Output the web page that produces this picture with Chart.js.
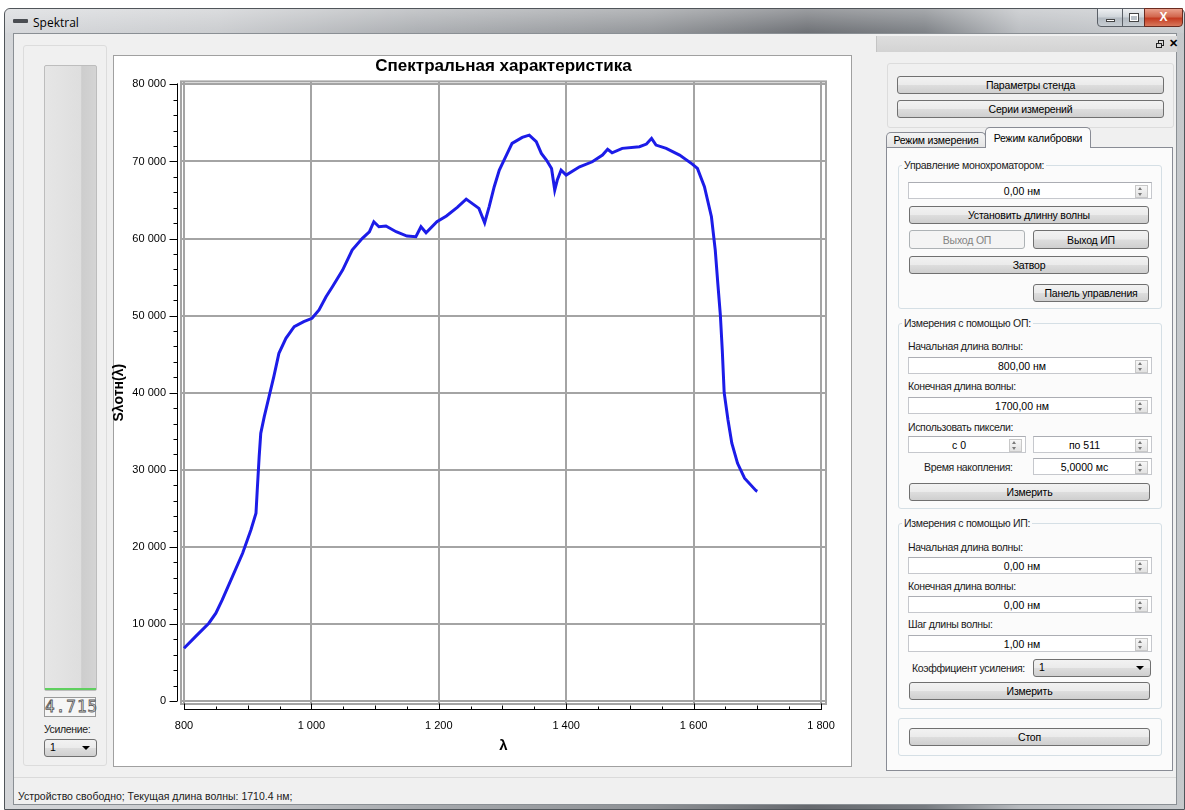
<!DOCTYPE html>
<html>
<head>
<meta charset="utf-8">
<title>Spektral</title>
<script src="https://cdn.jsdelivr.net/npm/chart.js@4.4.1/dist/chart.umd.min.js"></script>
<style>
  html, body { margin: 0; padding: 0; width: 1185px; height: 810px; overflow: hidden; background: #fff;
    font-family: "Liberation Sans", Arial, sans-serif; font-size: 10.5px; color: #000; }
  .a { position: absolute; box-sizing: border-box; }
  .win { left: 4px; top: 8px; width: 1181px; height: 802px; border: 1px solid #50555a; border-radius: 6px 6px 0 0;
    background: linear-gradient(to right, #d4d6d9 0%, #c8cacd 18%, #a7aaae 35%, #8d9094 55%, #66696e 68%, #777b80 78%, #b7babe 86%, #c6c9cc 100%); }
  .winshade { left: 5px; top: 9px; width: 1179px; height: 24px; border-radius: 5px 5px 0 0;
    background: linear-gradient(rgba(255,255,255,0.35), rgba(255,255,255,0.05)); }
  .client { left: 13px; top: 33px; width: 1164px; height: 772px; background: #f0f0f0; border: 1px solid #8a8f94; }
  .ttl { left: 33px; top: 14px; font-family: "Open Sans", "Noto Sans", sans-serif; font-size: 12px; color: #000; }
  .ico { left: 13px; top: 19px; width: 15px; height: 4px; background: #4a4d52; border-radius: 1px; }
  .wb { top: 8px; height: 19px; border: 1px solid #5a5f66; background: linear-gradient(#eef0f2, #cfd4d9 48%, #b3bac1 52%, #c7cdd2); }
  .close { background: linear-gradient(#eaa08c, #d2684f 45%, #c43b21 55%, #d8785c); color: #fff; font-weight: bold;
    font-size: 12px; text-align: center; line-height: 17px; border-radius: 0 0 4px 0; }
  .grp { border: 1px solid #d5dfe5; border-radius: 3px; }
  .gt { position: absolute; left: 3px; top: -8px; padding: 0 2px; line-height: 14px; background: #fbfbfb; color: #222; letter-spacing: -0.3px; white-space: nowrap; }
  .btn { border: 1px solid #707070; border-radius: 3px; display: flex; align-items: center; justify-content: center;
    background: linear-gradient(#f2f2f2, #ebebeb 48%, #dddddd 52%, #cfcfcf); color: #000; letter-spacing: -0.2px; }
  .dis { border-color: #adb2b5; background: #f4f4f4; color: #838383; }
  .spin { border: 1px solid #c6c8cd; border-top-color: #abadb3; background: #fff; display: flex; align-items: center;
    justify-content: center; padding-right: 16px; }
  .ud { position: absolute; right: 3px; top: 2px; width: 11px; height: 11px; border: 1px solid #c8c8c8; background: linear-gradient(#f7f7f7, #e2e2e2); }
  .ud::before, .ud::after { content: ""; position: absolute; left: 2px; border-left: 2.5px solid transparent; border-right: 2.5px solid transparent; }
  .ud::before { top: 1px; border-bottom: 3px solid #7a7a7a; }
  .ud::after { bottom: 1px; border-top: 3px solid #7a7a7a; }
  .lbl { line-height: 13px; white-space: nowrap; color: #1a1a1a; letter-spacing: -0.35px; }
  .combo { border: 1px solid #707070; border-radius: 3px; background: linear-gradient(#f2f2f2, #ebebeb 48%, #dddddd 52%, #cfcfcf);
    padding-left: 5px; line-height: 15px; }
  .combo::after { content: ""; position: absolute; right: 6px; top: 6px; border-left: 4px solid transparent; border-right: 4px solid transparent; border-top: 4px solid #000; }
  .tab { border: 1px solid #898c95; border-bottom: none; border-radius: 5px 5px 0 0; text-align: center; line-height: 15px; letter-spacing: -0.2px; }
</style>
</head>
<body>

<!-- window chrome -->
<div class="a win"></div>
<div class="a winshade"></div>
<div class="a ico"></div>
<div class="a ttl">Spektral</div>
<div class="a wb" style="left:1097px;width:26px;border-radius:0 0 0 4px;"><div class="a" style="left:8px;top:10px;width:9px;height:3px;background:#fff;border:1px solid #444;"></div></div>
<div class="a wb" style="left:1122px;width:23px;"><div class="a" style="left:6px;top:4px;width:10px;height:9px;background:#fff;border:1px solid #444;"><div class="a" style="left:1px;top:2px;width:6px;height:4px;background:#b9c0c7;"></div></div></div>
<div class="a wb close" style="left:1144px;width:39px;border-color:#6b2b20;">X</div>

<div class="a client"></div>

<!-- left panel -->
<div class="a grp" style="left:23px;top:45px;width:84px;height:721px;border-color:#dcdcdc;"></div>
<div class="a" style="left:44px;top:65px;width:53px;height:626px;border:1px solid #bdbdbd;border-radius:2px;background:linear-gradient(to right,#e6e6e6,#dedede 70%,#cdcdcd 72%,#d4d4d4);"></div>
<div class="a" style="left:45px;top:688px;width:51px;height:2px;background:#5fcf5f;"></div>
<div class="a" style="left:44px;top:697px;width:52px;height:20px;border:1px solid #9a9a9a;background:#f6f6f6;font-family:'DejaVu Sans Mono',monospace;font-size:16px;line-height:18px;text-align:center;color:transparent;-webkit-text-stroke:0.8px #555;letter-spacing:1px;">4.715</div>
<div class="a lbl" style="left:44px;top:723px;">Усиление:</div>
<div class="a combo" style="left:44px;top:739px;width:53px;height:18px;">1</div>

<!-- chart panel -->
<div class="a" style="left:113px;top:55px;width:739px;height:712px;background:#fff;border:1px solid #a0a0a0;"></div>
<canvas id="spectrum" class="a" width="760" height="720" style="left:100px;top:50px;width:760px;height:720px;"></canvas>

<!-- right dock -->
<div class="a" style="left:876px;top:36px;width:301px;height:16px;background:linear-gradient(#dedede,#d3d3d3);border-left:1px solid #c4c4c4;"></div>
<div class="a" style="left:1158px;top:40px;width:6px;height:6px;border:1px solid #222;"></div>
<div class="a" style="left:1156px;top:43px;width:6px;height:5px;border:1px solid #222;background:#d8d8d8;"></div>
<div class="a" style="left:1169px;top:37px;font-size:11px;font-weight:bold;">✕</div>

<div class="a grp" style="left:887px;top:63px;width:287px;height:65px;border-color:#dcdcdc;"></div>
<div class="a btn" style="left:897px;top:76px;width:267px;height:18px;">Параметры стенда</div>
<div class="a btn" style="left:897px;top:100px;width:267px;height:18px;">Серии измерений</div>

<div class="a tab" style="left:886px;top:132px;width:100px;height:16px;background:linear-gradient(#f4f4f4,#e4e4e4);">Режим измерения</div>
<div class="a" style="left:886px;top:147px;width:287px;height:624px;border:1px solid #898c95;background:#fbfbfb;"></div>
<div class="a tab" style="left:985px;top:127px;width:106px;height:21px;background:#fbfbfb;line-height:20px;">Режим калибровки</div>

<div class="a grp" style="left:898px;top:165px;width:264px;height:144px;"><div class="gt">Управление монохроматором:</div></div>
<div class="a spin" style="left:908px;top:182px;width:244px;height:17px;">0,00 нм<div class="ud"></div></div>
<div class="a btn" style="left:909px;top:206px;width:240px;height:18px;">Установить длинну волны</div>
<div class="a btn dis" style="left:909px;top:230px;width:116px;height:19px;">Выход ОП</div>
<div class="a btn" style="left:1033px;top:230px;width:116px;height:19px;">Выход ИП</div>
<div class="a btn" style="left:909px;top:256px;width:240px;height:18px;">Затвор</div>
<div class="a btn" style="left:1033px;top:284px;width:116px;height:18px;">Панель управления</div>

<div class="a grp" style="left:898px;top:323px;width:264px;height:186px;"><div class="gt">Измерения с помощью ОП:</div></div>
<div class="a lbl" style="left:908px;top:340px;">Начальная длина волны:</div>
<div class="a spin" style="left:908px;top:357px;width:244px;height:17px;">800,00 нм<div class="ud"></div></div>
<div class="a lbl" style="left:908px;top:380px;">Конечная длина волны:</div>
<div class="a spin" style="left:908px;top:397px;width:244px;height:17px;">1700,00 нм<div class="ud"></div></div>
<div class="a lbl" style="left:908px;top:421px;">Использовать пиксели:</div>
<div class="a spin" style="left:908px;top:436px;width:118px;height:17px;">с 0<div class="ud"></div></div>
<div class="a spin" style="left:1033px;top:436px;width:119px;height:17px;">по 511<div class="ud"></div></div>
<div class="a lbl" style="left:924px;top:461px;">Время накопления:</div>
<div class="a spin" style="left:1033px;top:458px;width:119px;height:17px;">5,0000 мс<div class="ud"></div></div>
<div class="a btn" style="left:909px;top:483px;width:241px;height:18px;">Измерить</div>

<div class="a grp" style="left:898px;top:523px;width:264px;height:186px;"><div class="gt">Измерения с помощью ИП:</div></div>
<div class="a lbl" style="left:908px;top:541px;">Начальная длина волны:</div>
<div class="a spin" style="left:908px;top:557px;width:244px;height:17px;">0,00 нм<div class="ud"></div></div>
<div class="a lbl" style="left:908px;top:580px;">Конечная длина волны:</div>
<div class="a spin" style="left:908px;top:596px;width:244px;height:17px;">0,00 нм<div class="ud"></div></div>
<div class="a lbl" style="left:908px;top:618px;">Шаг длины волны:</div>
<div class="a spin" style="left:908px;top:635px;width:244px;height:17px;">1,00 нм<div class="ud"></div></div>
<div class="a lbl" style="left:912px;top:662px;">Коэффициент усиления:</div>
<div class="a combo" style="left:1033px;top:659px;width:118px;height:18px;">1</div>
<div class="a btn" style="left:909px;top:682px;width:241px;height:18px;">Измерить</div>

<div class="a grp" style="left:898px;top:718px;width:264px;height:38px;"></div>
<div class="a btn" style="left:909px;top:728px;width:241px;height:18px;">Стоп</div>

<!-- status bar -->
<div class="a" style="left:14px;top:777px;width:1162px;height:1px;background:#dadada;"></div>
<div class="a" style="left:18px;top:790px;line-height:13px;white-space:nowrap;color:#1a1a1a;">Устройство свободно; Текущая длина волны: 1710.4 нм;</div>

<script>
// spectral response
const wavelengths = [
  800, 818, 839, 850, 860, 876, 892, 905, 913, 915, 918, 920.5, 926, 933.5, 941, 949, 960, 973, 988,
  1001, 1012, 1023, 1033, 1049, 1064, 1080, 1091, 1098, 1106, 1117, 1133, 1150, 1164, 1172, 1180, 1197,
  1212, 1229, 1243, 1256, 1263, 1272, 1279, 1287, 1295, 1303, 1315, 1331, 1342, 1353, 1361, 1369, 1377,
  1382, 1386, 1392, 1400, 1421, 1441, 1457, 1465, 1472, 1488, 1515, 1526, 1534, 1541, 1557, 1578, 1598,
  1606, 1617, 1628, 1634, 1638, 1642, 1645, 1648, 1654, 1660, 1669, 1680, 1698, 1700
];
const intensity = [
  6850, 8350, 10090, 11390, 13110, 16140, 19170, 22190, 24360, 27380, 31700, 34730, 36890, 39480, 42075, 45110, 47060, 48560, 49210,
  49650, 50730, 52450, 53750, 55910, 58510, 60030, 60880, 62180, 61530, 61620, 60880, 60320, 60230, 61530, 60750, 62180,
  62920, 64050, 65120, 64340, 63920, 62050, 64120, 66720, 68880, 70270, 72350, 73130, 73420, 72560, 71050, 70180, 69100,
  66290, 67590, 68880, 68240, 69310, 69960, 70830, 71570, 71130, 71700, 71910, 72260, 73000, 72130, 71700, 70830, 69660,
  69100, 66720, 62830, 58510, 54190, 50080, 45540, 40000, 36460, 33440, 30840, 28900, 27290, 27200
];
const xTickValues = [800, 1000, 1200, 1400, 1600, 1800];
const yTickValues = [0, 10000, 20000, 30000, 40000, 50000, 60000, 70000, 80000];
const chartTitle = 'Спектральная характеристика';
const xTitle = 'λ';
const yTitle = 'Sλотн(λ)';

Chart.defaults.font.family = '"Liberation Sans", Arial, sans-serif';

// "80 000" style labels
const fmt = v => String(v).replace(/\B(?=(\d{3})+(?!\d))/g, ' ');

// qwt-like frame and detached axes with minor ticks
const qwtAxes = {
  id: 'qwtAxes',
  beforeDatasetsDraw(chart) {
    const { ctx, chartArea: a } = chart;
    ctx.save();
    ctx.strokeStyle = '#a4a4a4';
    ctx.lineWidth = 2;
    ctx.strokeRect(a.left, a.top, a.right - a.left, a.bottom - a.top);
    ctx.restore();
  },
  afterDraw(chart) {
    const { ctx, chartArea: a, scales: { x, y } } = chart;
    ctx.save();
    ctx.strokeStyle = '#000';
    ctx.lineWidth = 1;
    ctx.beginPath();

    const ax = Math.round(a.left - 4) + 0.5;
    ctx.moveTo(ax, y.getPixelForValue(yTickValues[0]));
    ctx.lineTo(ax, y.getPixelForValue(yTickValues[yTickValues.length - 1]) - 1);
    yTickValues.forEach((v, i) => {
      const py = Math.round(y.getPixelForValue(v)) + 0.5;
      ctx.moveTo(ax - 8, py); ctx.lineTo(ax, py);
      if (i < yTickValues.length - 1) {
        const step = (yTickValues[i + 1] - v) / 5;
        for (let k = 1; k < 5; k++) {
          const my = Math.round(y.getPixelForValue(v + k * step)) + 0.5;
          ctx.moveTo(ax - 4, my); ctx.lineTo(ax, my);
        }
      }
    });

    const by = Math.round(a.bottom + 5) + 0.5;
    ctx.moveTo(x.getPixelForValue(xTickValues[0]), by);
    ctx.lineTo(x.getPixelForValue(xTickValues[xTickValues.length - 1]) + 1, by);
    xTickValues.forEach((v, i) => {
      const px = Math.round(x.getPixelForValue(v)) + 0.5;
      ctx.moveTo(px, by); ctx.lineTo(px, by - 6);
      if (i < xTickValues.length - 1) {
        const step = (xTickValues[i + 1] - v) / 4;
        for (let k = 1; k < 4; k++) {
          const mx = Math.round(x.getPixelForValue(v + k * step)) + 0.5;
          ctx.moveTo(mx, by); ctx.lineTo(mx, by - (k === 2 ? 4 : 3));
        }
      }
    });
    ctx.stroke();
    ctx.restore();
  }
};

new Chart(document.getElementById('spectrum'), {
  type: 'line',
  data: {
    datasets: [{
      data: wavelengths.map((w, i) => ({ x: w, y: intensity[i] })),
      borderColor: '#1c1ce8',
      borderWidth: 3,
      pointRadius: 0,
      tension: 0,
      fill: false
    }]
  },
  options: {
    responsive: false,
    animation: false,
    devicePixelRatio: 1,
    layout: { padding: { left: 0, top: 0, right: 34, bottom: 0 } },
    plugins: {
      legend: { display: false },
      tooltip: { enabled: false },
      title: {
        display: true,
        text: chartTitle,
        fullSize: false,
        color: '#000',
        font: { size: 17, weight: 'bold' },
        padding: { top: 6, bottom: 5 }
      }
    },
    scales: {
      x: {
        type: 'linear',
        min: 795.29,
        max: 1807.85,
        afterBuildTicks: s => { s.ticks = xTickValues.map(v => ({ value: v })); },
        afterFit: s => { s.height = 66; },
        grid: { color: '#a4a4a4', lineWidth: 2, drawTicks: false },
        border: { display: false },
        ticks: { padding: 15, color: '#000', font: { size: 11 }, maxRotation: 0, autoSkip: false, callback: v => fmt(v) },
        title: { display: true, text: xTitle, color: '#000', font: { size: 15, weight: 'bold' }, padding: { top: 0, bottom: 15 } }
      },
      y: {
        min: -389,
        max: 80389,
        afterBuildTicks: s => { s.ticks = yTickValues.map(v => ({ value: v })); },
        afterFit: s => { s.width = 81; },
        grid: { color: '#a4a4a4', lineWidth: 2, drawTicks: false },
        border: { display: false },
        ticks: { padding: 15, color: '#000', font: { size: 11 }, autoSkip: false, callback: v => fmt(v) },
        title: { display: true, text: yTitle, color: '#000', font: { size: 14, weight: 'bold' }, padding: { top: 11, bottom: 0 } }
      }
    }
  },
  plugins: [qwtAxes]
});
</script>
</body>
</html>
